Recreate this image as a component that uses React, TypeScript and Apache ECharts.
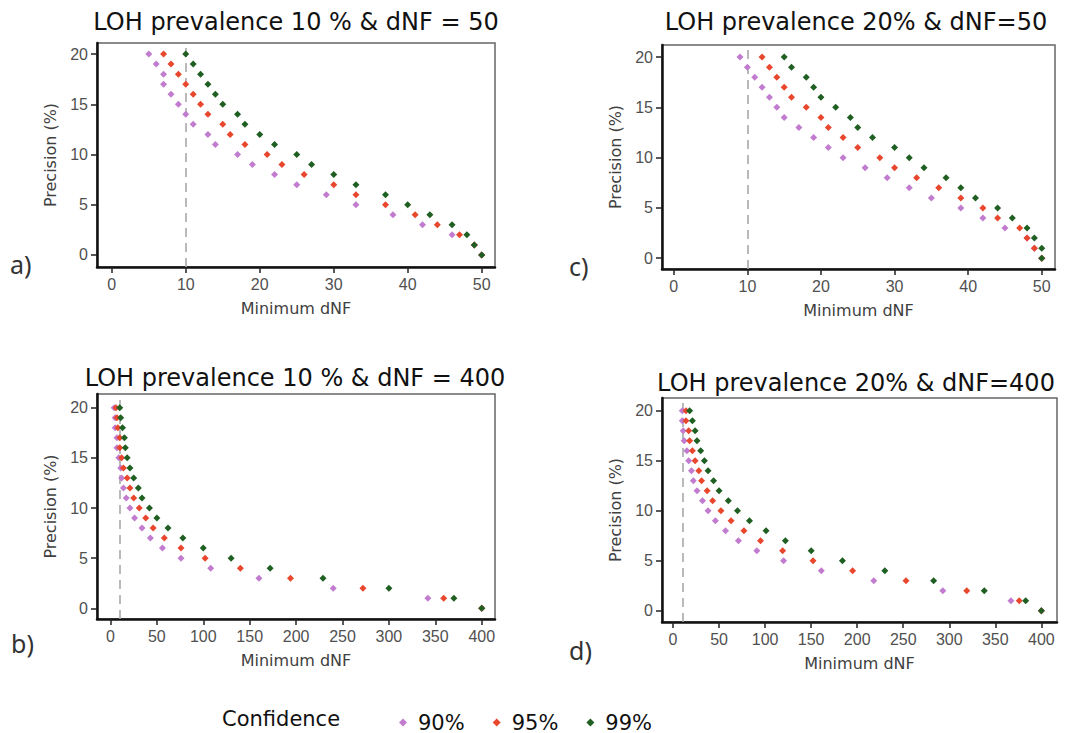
import { useEffect, useRef } from "react";
import * as echarts from "echarts";

// Precision (%) levels, shared by every series (rows from top to bottom)
const precision = [20, 19, 18, 17, 16, 15, 14, 13, 12, 11, 10, 9, 8, 7, 6, 5, 4, 3, 2, 1, 0];

// a) LOH prevalence 10 % & dNF = 50 : minimum dNF per precision level
const aConf90 = [5, 6, 7, 7, 8, 9, 10, 11, 13, 14, 17, 19, 22, 25, 29, 33, 38, 42, 46, 49, 50];
const aConf95 = [7, 8, 9, 10, 11, 12, 13, 15, 16, 18, 21, 23, 26, 30, 33, 37, 41, 44, 47, 49, 50];
const aConf99 = [10, 11, 12, 13, 14, 15, 17, 18, 20, 22, 25, 27, 30, 33, 37, 40, 43, 46, 48, 49, 50];

// c) LOH prevalence 20% & dNF=50
const cConf90 = [9, 10, 11, 12, 13, 14, 15, 17, 19, 21, 23, 26, 29, 32, 35, 39, 42, 45, 48, 49, 50];
const cConf95 = [12, 13, 14, 15, 16, 18, 20, 21, 23, 25, 28, 30, 33, 36, 39, 42, 44, 47, 48, 49, 50];
const cConf99 = [15, 16, 18, 19, 20, 22, 24, 25, 27, 30, 32, 34, 37, 39, 41, 44, 46, 48, 49, 50, 50];

// b) LOH prevalence 10 % & dNF = 400
const bConf90 = [4, 5, 5, 7, 7, 9, 11, 12, 14, 17, 21, 26, 34, 43, 56, 76, 108, 160, 240, 342, 400];
const bConf95 = [6, 7, 8, 10, 10, 12, 14, 18, 21, 25, 31, 38, 46, 58, 76, 102, 140, 194, 272, 359, 400];
const bConf99 = [10, 11, 13, 15, 16, 18, 21, 25, 30, 34, 42, 50, 62, 78, 100, 130, 172, 229, 300, 370, 400];

// d) LOH prevalence 20% & dNF=400
const dConf90 = [10, 10, 11, 12, 15, 17, 20, 22, 26, 32, 38, 46, 57, 71, 91, 120, 161, 218, 293, 367, 400];
const dConf95 = [14, 14, 17, 18, 21, 24, 28, 31, 37, 43, 52, 63, 77, 95, 119, 152, 195, 253, 319, 376, 400];
const dConf99 = [18, 21, 24, 26, 30, 34, 38, 44, 50, 60, 70, 83, 101, 122, 150, 184, 230, 283, 338, 383, 400];

const confidenceNames = ["90%", "95%", "99%"];
const yTicks = [0, 5, 10, 15, 20];
const xTicks50 = [0, 10, 20, 30, 40, 50];
const xTicks400 = [0, 50, 100, 150, 200, 250, 300, 350, 400];
const cutoff = 10;

const colors = ["#c27ccf", "#e8472d", "#1f5f22"];

const panels = [
  {
    label: "a)", title: "LOH prevalence 10 % & dNF = 50",
    grid: { left: 97, top: 43, width: 398, height: 224 },
    x: [-2, 51.8], y: [-1.2, 21.1], xTicks: xTicks50,
    titlePos: [296, 22], labelPos: [10, 264],
    data: [aConf90, aConf95, aConf99],
  },
  {
    label: "c)", title: "LOH prevalence 20% & dNF=50",
    grid: { left: 662, top: 45, width: 393, height: 224 },
    x: [-1.6, 51.8], y: [-1.07, 21.2], xTicks: xTicks50,
    titlePos: [856, 22], labelPos: [569, 266],
    data: [cConf90, cConf95, cConf99],
  },
  {
    label: "b)", title: "LOH prevalence 10 % & dNF = 400",
    grid: { left: 97, top: 394, width: 398, height: 225 },
    x: [-14.5, 414.3], y: [-1.07, 21.37], xTicks: xTicks400,
    titlePos: [295, 378], labelPos: [11, 643],
    data: [bConf90, bConf95, bConf99],
  },
  {
    label: "d)", title: "LOH prevalence 20% & dNF=400",
    grid: { left: 662, top: 398, width: 395, height: 224 },
    x: [-12, 417], y: [-1.13, 21.27], xTicks: xTicks400,
    titlePos: [856, 383], labelPos: [569, 650],
    data: [dConf90, dConf95, dConf99],
  },
];

export default function App() {
  const ref = useRef<HTMLDivElement>(null);
  useEffect(() => {
    const chart = echarts.init(ref.current!, null, { renderer: "svg" });
    const tickLabel = { color: "#505050", fontSize: 16, fontFamily: "Liberation Sans" };
    const nameStyle = { color: "#404040", fontSize: 16, fontFamily: "DejaVu Sans" };

    const grids = panels.map((p) => ({
      ...p.grid,
      show: true,
      borderColor: "#666",
      borderWidth: 1.5,
      backgroundColor: "transparent",
      containLabel: false,
    }));

    const xAxes = panels.map((p, i) => ({
      type: "value",
      gridIndex: i,
      min: p.x[0],
      max: p.x[1],
      name: "Minimum dNF",
      nameLocation: "middle",
      nameGap: 33,
      nameTextStyle: nameStyle,
      splitLine: { show: false },
      axisLine: { show: true, onZero: false, lineStyle: { color: "#111", width: 2.5 } },
      axisTick: { show: true, length: 6, customValues: p.xTicks, lineStyle: { color: "#222", width: 1.5 } },
      axisLabel: { ...tickLabel, margin: 9, customValues: p.xTicks },
    }));

    const yAxes = panels.map((p, i) => ({
      type: "value",
      gridIndex: i,
      min: p.y[0],
      max: p.y[1],
      name: "Precision (%)",
      nameLocation: "middle",
      nameRotate: 90,
      nameGap: 39,
      nameTextStyle: nameStyle,
      splitLine: { show: false },
      axisLine: { show: true, onZero: false, lineStyle: { color: "#111", width: 2.5 } },
      axisTick: { show: true, length: 6, customValues: yTicks, lineStyle: { color: "#222", width: 1.5 } },
      axisLabel: { ...tickLabel, margin: 9, customValues: yTicks },
    }));

    const series: any[] = [];
    panels.forEach((p, i) => {
      p.data.forEach((vals, k) => {
        series.push({
          type: "scatter",
          name: confidenceNames[k],
          xAxisIndex: i,
          yAxisIndex: i,
          symbol: "diamond",
          symbolSize: [7, 7],
          itemStyle: { color: colors[k], opacity: 1 },
          z: 3 + k,
          data: vals.map((v, j) => [v, precision[j]]),
          markLine:
            k === 0
              ? {
                  silent: true,
                  symbol: "none",
                  label: { show: false },
                  z: 1,
                  lineStyle: { color: "#a8a8a8", type: [9, 6], width: 1.6 },
                  data: [{ xAxis: cutoff }],
                }
              : undefined,
        });
      });
    });

    const graphics: any[] = [];
    panels.forEach((p) => {
      graphics.push({
        type: "text",
        x: p.titlePos[0],
        y: p.titlePos[1],
        style: {
          text: p.title,
          fontSize: 24,
          fontFamily: "DejaVu Sans",
          fill: "#111",
          align: "center",
          verticalAlign: "middle",
        },
      });
      graphics.push({
        type: "text",
        x: p.labelPos[0],
        y: p.labelPos[1],
        style: {
          text: p.label,
          fontSize: 25,
          fontFamily: "Noto Sans",
          fill: "#333",
          align: "left",
          verticalAlign: "middle",
        },
      });
    });
    graphics.push({
      type: "text",
      x: 222,
      y: 719,
      style: {
        text: "Confidence",
        fontSize: 21,
        fontFamily: "DejaVu Sans",
        fill: "#111",
        align: "left",
        verticalAlign: "middle",
      },
    });

    chart.setOption({
      animation: false,
      backgroundColor: "#fff",
      grid: grids,
      xAxis: xAxes,
      yAxis: yAxes,
      series,
      graphic: graphics,
      legend: {
        data: confidenceNames,
        left: 394,
        top: 707,
        itemWidth: 8,
        itemHeight: 8,
        itemGap: 28,
        icon: "diamond",
        selectedMode: false,
        textStyle: {
          fontSize: 21,
          fontFamily: "DejaVu Sans",
          color: "#111",
          padding: [0, 0, 0, 6],
        },
      },
    });
    return () => chart.dispose();
  }, []);
  return (
    <div
      ref={ref}
      style={{ position: "absolute", left: 0, top: 0, width: 1067, height: 733, background: "#fff" }}
    />
  );
}
